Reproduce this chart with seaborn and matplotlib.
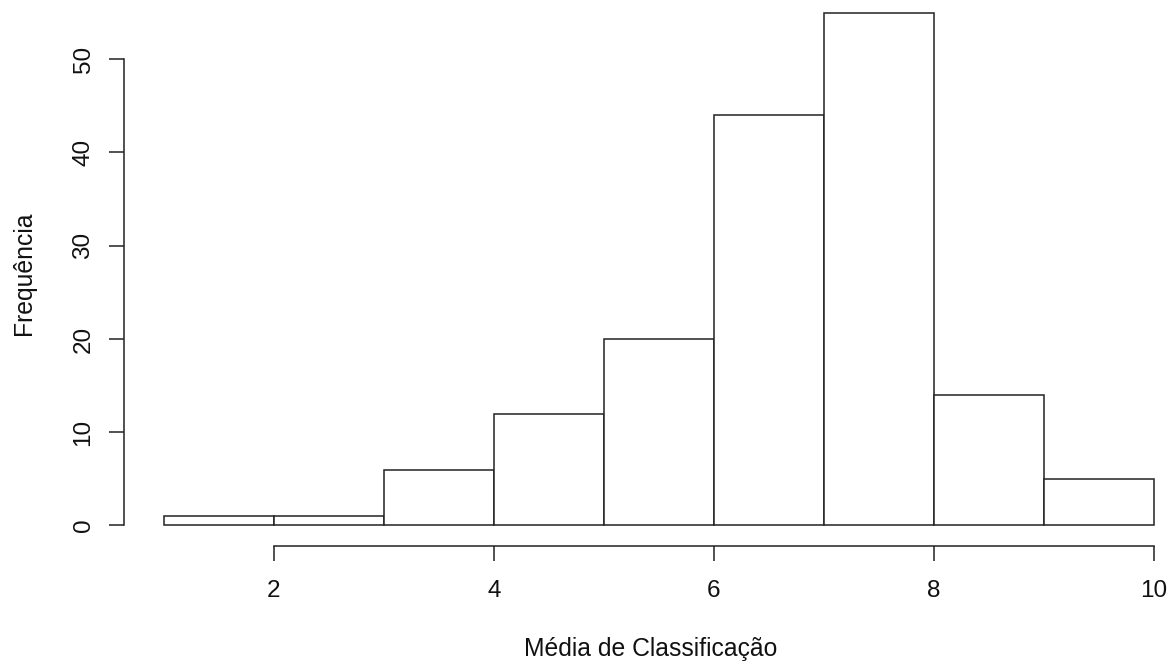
import matplotlib
matplotlib.use("Agg")
import matplotlib.pyplot as plt
import seaborn as sns
import numpy as np

# Histogram bins (class limits) and frequencies
bin_edges = [1, 2, 3, 4, 5, 6, 7, 8, 9, 10]
counts = [1, 1, 6, 12, 20, 44, 55, 14, 5]
x_ticks = [2, 4, 6, 8, 10]
y_ticks = [0, 10, 20, 30, 40, 50]
x_label = "Média de Classificação"
y_label = "Frequência"

sns.set_style("white")
plt.rcParams["font.family"] = ["Liberation Sans", "DejaVu Sans"]

W, H = 1176, 663
fig = plt.figure(figsize=(W / 100, H / 100), dpi=100)
left_px, bottom_px = 124.4, 117
ax = fig.add_axes([left_px / W, bottom_px / H, 1 - left_px / W, 1 - bottom_px / H])

centers = [(a + b) / 2 for a, b in zip(bin_edges[:-1], bin_edges[1:])]
sns.histplot(x=centers, weights=counts, bins=bin_edges, ax=ax,
             color="white", edgecolor="#222222", linewidth=1.1, alpha=1)

ax.set_xlim(0.64, 0.64 + (W - left_px) / 110)
ax.set_ylim(-2.2, 56.35)

for s in ["top", "right"]:
    ax.spines[s].set_visible(False)
for s in ["left", "bottom"]:
    ax.spines[s].set_visible(True)
    ax.spines[s].set_color("#222222")
    ax.spines[s].set_linewidth(1.1)
ax.spines["left"].set_bounds(0, 50)
ax.spines["bottom"].set_bounds(2, 10)

ax.set_xticks(x_ticks)
ax.set_yticks(y_ticks)
ax.set_xticklabels([str(v) for v in x_ticks])
ax.set_yticklabels([str(v) for v in y_ticks], rotation=90, va="center")
ax.tick_params(axis="both", direction="out", length=10.5, width=1.1,
               color="#222222", labelsize=17.5, labelcolor="#111111",
               left=True, bottom=True)
ax.tick_params(axis="x", pad=14)
ax.tick_params(axis="y", pad=11)

ax.set_xlabel(x_label, fontsize=17.8, color="#111111", labelpad=25)
ax.set_ylabel(y_label, fontsize=17.8, color="#111111", labelpad=26)
ax.grid(False)

fig.savefig("out.png", dpi=100, facecolor="white")
